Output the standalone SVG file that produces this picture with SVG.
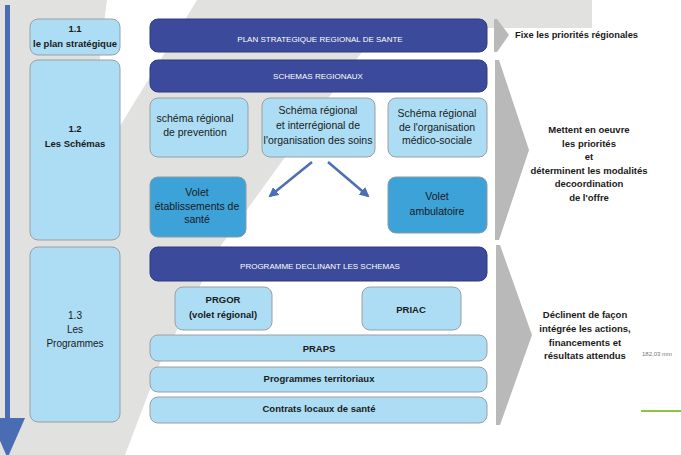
<svg xmlns="http://www.w3.org/2000/svg" width="681" height="455" viewBox="0 0 681 455">
<defs>
<style>
.bg{fill:#e1e1e0}
.wh{fill:#ffffff}
.chev{fill:#b9b9b9}
.dark{fill:#3b4a9a;stroke:#2e3a80;stroke-width:1}
.light{fill:#acddf4;stroke:#9a9fa3;stroke-width:1}
.mid{fill:#3da2d8;stroke:#8a9aa5;stroke-width:1}
.t{font-family:"Liberation Sans",Arial,sans-serif;fill:#1a1a1a;text-anchor:middle}
.b{font-weight:bold}
.w{fill:#ffffff;font-size:8px}
.s10{font-size:10.5px}
.s95{font-size:9.5px}
.conn{stroke:#4d6db4;stroke-width:2.5;fill:none}
</style>
<marker id="ah" viewBox="0 0 10 10" refX="8" refY="5" markerWidth="4" markerHeight="4" orient="auto" markerUnits="strokeWidth">
<path d="M0,0 L10,5 L0,10 z" fill="#4d6db4"/>
</marker>
</defs>
<rect x="0" y="0" width="681" height="455" fill="#ffffff"/>
<g id="background">
<rect class="bg" x="0" y="0" width="592" height="28"/>
<polygon class="bg" points="0,0 400,0 283,160 220,247 160,363 125,455 0,455"/>
<polygon class="wh" points="107,0 197,0 120,126 100,126 100,54"/>
</g>
<g id="chevrons">
<polygon class="chev" points="494,19 497,19 509,35 497,52 494,52"/>
<polygon class="chev" points="495,60 499,60 529,150 499,240 495,240"/>
<polygon class="chev" points="496,245 500,245 532,335 500,425 496,425"/>
</g>
<g id="connectors">
<line x1="7.5" y1="5" x2="7.5" y2="425" stroke="#4a6cb3" stroke-width="5"/>
<polygon points="-10,418 25,418 7.5,458" fill="#4a6cb3"/>
<line class="conn" x1="312" y1="162" x2="270" y2="196" marker-end="url(#ah)"/>
<line class="conn" x1="328" y1="162" x2="368" y2="196" marker-end="url(#ah)"/>
</g>
<g id="n11">
<rect class="light" x="30" y="19" width="90" height="36" rx="8"/>
<text class="t b s95" x="75" y="31.5">1.1</text>
<text class="t b s95" x="75" y="46.5">le plan stratégique</text>
</g>
<g id="n12">
<rect class="light" x="30" y="60" width="90" height="180" rx="8"/>
<text class="t b s95" x="75" y="131.5">1.2</text>
<text class="t b s95" x="75" y="146.5">Les Schémas</text>
</g>
<g id="n13">
<rect class="light" x="30" y="247" width="90" height="175" rx="8"/>
<text class="t" font-size="10" x="75" y="318.5">1.3</text>
<text class="t" font-size="10" x="75" y="332.5">Les</text>
<text class="t" font-size="10" x="75" y="346.5">Programmes</text>
</g>
<g id="psrs">
<rect class="dark" x="150" y="19" width="337" height="33" rx="8"/>
<text class="t w" x="320" y="41.5">PLAN STRATEGIQUE REGIONAL DE SANTE</text>
</g>
<g id="schemas">
<rect class="dark" x="150" y="60" width="337" height="32" rx="8"/>
<text class="t w" x="318" y="79">SCHEMAS REGIONAUX</text>
</g>
<g id="prevention">
<rect class="light" x="150" y="98" width="98" height="59" rx="8"/>
<text class="t s10" x="195" y="121.5">schéma régional</text>
<text class="t s10" x="195" y="135.5">de prevention</text>
</g>
<g id="soins">
<rect class="light" x="262" y="98" width="113" height="59" rx="8"/>
<text class="t s10" x="318" y="113.7">Schéma régional</text>
<text class="t s10" x="318" y="128.7">et interrégional de</text>
<text class="t s10" x="318" y="143.7">l'organisation des soins</text>
</g>
<g id="medico">
<rect class="light" x="388" y="98" width="99" height="59" rx="8"/>
<text class="t s10" x="437" y="116.5">Schéma régional</text>
<text class="t s10" x="437" y="130.5">de l'organisation</text>
<text class="t s10" x="437" y="144">médico-sociale</text>
</g>
<g id="volet-etab">
<rect class="mid" x="150" y="177" width="96" height="60" rx="8"/>
<text class="t s10" x="197" y="196">Volet</text>
<text class="t s10" x="197" y="209.7">établissements de</text>
<text class="t s10" x="197" y="223">santé</text>
</g>
<g id="volet-amb">
<rect class="mid" x="388" y="177" width="99" height="56" rx="8"/>
<text class="t s10" x="437" y="199.7">Volet</text>
<text class="t s10" x="437" y="214.7">ambulatoire</text>
</g>
<g id="programme">
<rect class="dark" x="150" y="247" width="337" height="34" rx="8"/>
<text class="t w" x="320" y="269">PROGRAMME DECLINANT LES SCHEMAS</text>
</g>
<g id="prgor">
<rect class="light" x="175" y="287" width="97" height="43" rx="8"/>
<text class="t b s95" x="223" y="303.3">PRGOR</text>
<text class="t b s95" x="223" y="318.3">(volet régional)</text>
</g>
<g id="priac">
<rect class="light" x="362" y="287" width="99" height="43" rx="8"/>
<text class="t b s95" x="411" y="313.3">PRIAC</text>
</g>
<g id="praps">
<rect class="light" x="150" y="335" width="337" height="26" rx="8"/>
<text class="t b s95" x="319" y="352.3">PRAPS</text>
</g>
<g id="territoriaux">
<rect class="light" x="150" y="367" width="337" height="25" rx="8"/>
<text class="t b s95" x="319" y="382.3">Programmes territoriaux</text>
</g>
<g id="contrats">
<rect class="light" x="150" y="397" width="337" height="26" rx="8"/>
<text class="t b s95" x="319" y="412.3">Contrats locaux de santé</text>
</g>
<g id="right-texts">
<text class="t b" font-size="9.3" x="515" y="38.3" text-anchor="start" style="text-anchor:start">Fixe les priorités régionales</text>
<text class="t b s95" x="589" y="133.3">Mettent en oeuvre</text>
<text class="t b s95" x="589" y="146.8">les priorités</text>
<text class="t b s95" x="589" y="160.3">et</text>
<text class="t b s95" x="589" y="173.8">déterminent les modalités</text>
<text class="t b s95" x="589" y="187.3">decoordination</text>
<text class="t b s95" x="589" y="200.8">de l'offre</text>
<text class="t b s95" x="585" y="318.3">Déclinent de façon</text>
<text class="t b s95" x="585" y="332.3">intégrée les actions,</text>
<text class="t b s95" x="585" y="346.3">financements et</text>
<text class="t b s95" x="585" y="359.3">résultats attendus</text>
<text x="642" y="356" font-family="Liberation Sans, Arial, sans-serif" font-size="6" fill="#777777">182,03 mm</text>
<line x1="641" y1="411" x2="681" y2="411" stroke="#8cc63f" stroke-width="2"/>
</g>
</svg>
